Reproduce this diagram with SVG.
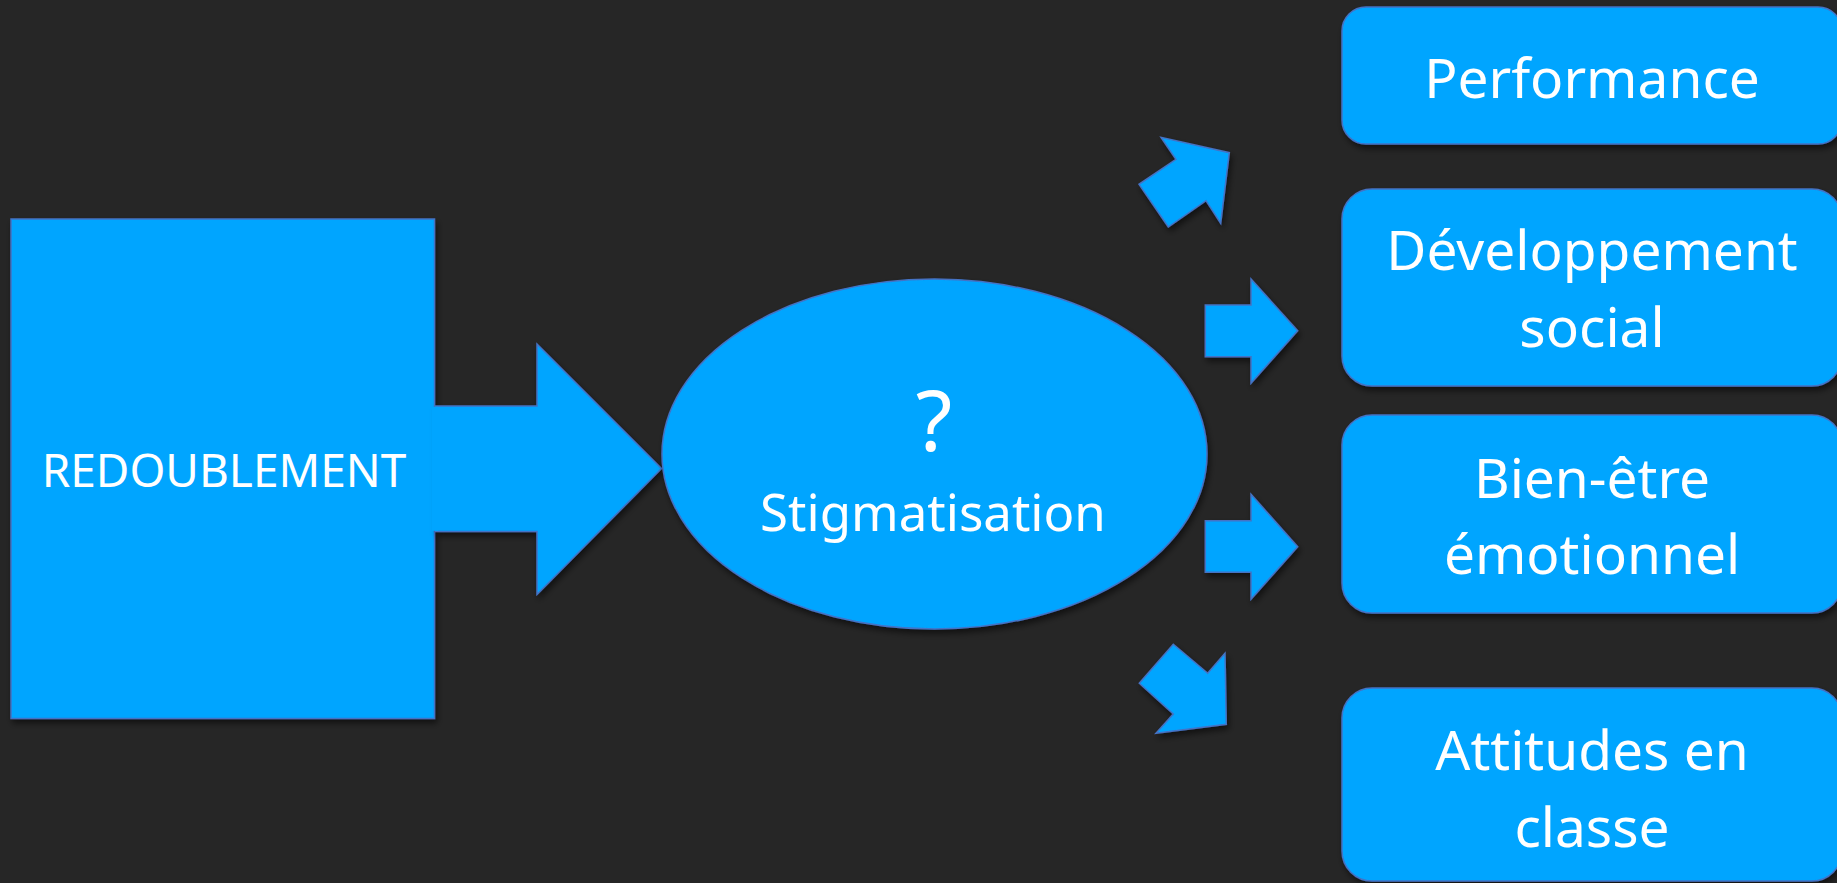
<svg xmlns="http://www.w3.org/2000/svg" width="1837" height="883" viewBox="0 0 1837 883">
<defs>
<filter id="sh" x="-10%" y="-10%" width="120%" height="130%">
<feDropShadow dx="2" dy="4" stdDeviation="3" flood-color="#000" flood-opacity="0.55"/>
</filter>
<style>
.shape{fill:#00A5FF;stroke:#4472C4;stroke-width:1.5;filter:url(#sh)}
.fillonly{fill:#00A5FF;stroke:none}
.edge{fill:none;stroke:#4472C4;stroke-width:1.5}
.t{font-family:"Noto Sans","Open Sans","Liberation Sans",sans-serif;fill:#FFFFFF;text-anchor:middle}
.big{font-size:55px}
</style>
</defs>
<rect width="1837" height="883" fill="#262626"/>

<g id="node-redoublement">
<rect class="shape" x="11" y="219" width="423.5" height="499.5"/>
<text class="t" x="224" y="487" font-size="46">REDOUBLEMENT</text>
</g>

<g id="connectors">
<g id="arrow-main">
<g filter="url(#sh)">
<polygon class="fillonly" points="435,406 537,406 537,344 661.5,468.5 537,594.5 537,531.5 435,531.5"/>
<polyline class="edge" points="435,406 537,406 537,344 661.5,468.5 537,594.5 537,531.5 435,531.5"/>
</g>
<rect class="fillonly" x="432" y="406.8" width="6" height="124"/>
</g>
<polygon id="arrow-up" class="shape" points="1176,159.3 1161,137.3 1229.3,152.7 1220.7,223.3 1206,200.7 1168.3,227 1139,184.3"/>
<polygon id="arrow-right-1" class="shape" points="1205.3,305 1251,305 1251,279 1297.7,330.7 1251,383.3 1251,356.7 1205.3,356.7"/>
<polygon id="arrow-right-2" class="shape" points="1205.3,520.7 1251,520.7 1251,494.3 1297.7,546.7 1251,599.3 1251,572.3 1205.3,572.3"/>
<polygon id="arrow-down" class="shape" points="1173.3,644.3 1207.7,673.3 1225,653.3 1226.3,724.3 1156,733.3 1173.3,714 1139.3,683.3"/>
</g>

<g id="node-stigmatisation">
<ellipse class="shape" cx="934.5" cy="454" rx="272.5" ry="175"/>
<text class="t" x="934" y="451" font-size="84">?</text>
<text class="t" x="933" y="531" font-size="51">Stigmatisation</text>
</g>

<g id="node-performance">
<rect class="shape" x="1342" y="7" width="500" height="137" rx="24"/>
<text class="t big" x="1592" y="98">Performance</text>
</g>

<g id="node-developpement">
<rect class="shape" x="1342" y="189" width="500" height="197" rx="30"/>
<text class="t big" x="1592" y="270">Développement</text>
<text class="t big" x="1592" y="347">social</text>
</g>

<g id="node-bienetre">
<rect class="shape" x="1342" y="415" width="500" height="198" rx="30"/>
<text class="t big" x="1592" y="498">Bien-être</text>
<text class="t big" x="1592" y="574">émotionnel</text>
</g>

<g id="node-attitudes">
<rect class="shape" x="1342" y="688" width="500" height="193" rx="30"/>
<text class="t big" x="1592" y="770">Attitudes en</text>
<text class="t big" x="1592" y="847">classe</text>
</g>
</svg>
